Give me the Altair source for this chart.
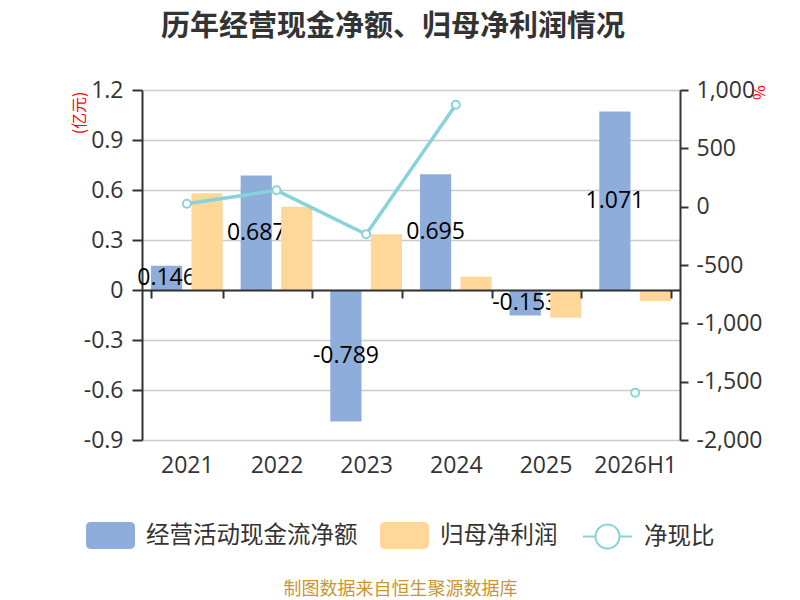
import altair as alt
import pandas as pd

# ---- data ----
years = ["2021", "2022", "2023", "2024", "2025", "2026H1"]
cash_flow = [0.146, 0.687, -0.789, 0.695, -0.153, 1.071]
net_profit = [0.58, 0.50, 0.334, 0.08, -0.166, -0.066]
cash_ratio = [25, 140, -237, 874, None, -1594]
cash_labels = ["0.146", "0.687", "-0.789", "0.695", "-0.153", "1.071"]

S1 = "经营活动现金流净额"
S2 = "归母净利润"
S3 = "净现比"
TITLE = "历年经营现金净额、归母净利润情况"
SOURCE = "制图数据来自恒生聚源数据库"

left_ticks = [-0.9, -0.6, -0.3, 0, 0.3, 0.6, 0.9, 1.2]
right_ticks = [-2000, -1500, -1000, -500, 0, 500, 1000]

BLUE = "#8EADDB"
ORANGE = "#FFD899"
TEAL = "#87D3D9"
DARK = "#333333"
FONT = "Open Sans, Noto Sans CJK SC"
CJK = "Noto Sans CJK SC"

cash_df = pd.DataFrame({"year": years, "value": cash_flow, "series": S1, "label": cash_labels})
profit_df = pd.DataFrame({"year": years, "value": net_profit, "series": S2})
ratio_df = pd.DataFrame({"year": years, "ratio": cash_ratio, "name": S3})

RECT_PATH = ("M-0.8,-0.55L0.8,-0.55Q1,-0.55,1,-0.35L1,0.35Q1,0.55,0.8,0.55"
             "L-0.8,0.55Q-1,0.55,-1,0.35L-1,-0.35Q-1,-0.55,-0.8,-0.55Z")
LINE_PATH = ("M-1,0L-0.49,0M0.49,0L1,0M0.49,0A0.49,0.49,0,1,1,-0.49,0"
             "A0.49,0.49,0,1,1,0.49,0")

x_axis = alt.Axis(
    title=SOURCE, titleColor="#C9962F", titleFontSize=18, titleFont=CJK,
    titleFontWeight="normal", titleX=258, titleY=299, titleAlign="center",
    titleBaseline="middle",
    offset=-150, domainColor=DARK, domainWidth=2, tickColor=DARK, tickWidth=2,
    tickSize=8, tickBand="extent", labelFontSize=23, labelFont=FONT,
    labelColor=DARK, labelPadding=156, labelAngle=0, grid=False, zindex=1,
)
x_enc = alt.X("year:N", sort=years, scale=alt.Scale(paddingInner=0.2, paddingOuter=0.1), axis=x_axis)
xoff_enc = alt.XOffset("series:N", scale=alt.Scale(domain=[S1, S2], paddingInner=0.23, paddingOuter=0))

left_axis = alt.Axis(
    values=left_ticks,
    labelExpr="datum.value == 0 ? '0' : (datum.value < 0 ? '-' : '') + format(abs(datum.value), '.1f')",
    title="(亿元)", titleColor="#FF0000", titleFontSize=16, titleFont=CJK,
    titleFontWeight="normal", titleX=-63, titleY=1, titleAngle=270,
    titleAlign="right", titleBaseline="middle",
    domainColor=DARK, domainWidth=2, tickColor=DARK, tickWidth=2, tickSize=10,
    labelPadding=9, labelFontSize=23, labelFont=FONT, labelColor=DARK,
    grid=True, gridColor="#CCCCCC", gridWidth=1.5,
)
left_scale = alt.Scale(domain=[-0.9, 1.2], nice=False)

right_axis = alt.Axis(
    orient="right", values=right_ticks,
    labelExpr="(datum.value < 0 ? '-' : '') + format(abs(datum.value), ',d')",
    title="%", titleColor="#FF0000", titleFontSize=16, titleFont=CJK,
    titleFontWeight="normal", titleX=77, titleY=2, titleAngle=90,
    titleAlign="center", titleBaseline="middle",
    domainColor=DARK, domainWidth=2, tickColor=DARK, tickWidth=2, tickSize=8,
    labelPadding=8, labelFontSize=23, labelFont=FONT, labelColor=DARK, grid=False,
)
right_scale = alt.Scale(domain=[-2000, 1000], nice=False)

leg_bars = alt.Legend(
    title=None, orient="none", legendX=-56, legendY=421, direction="horizontal",
    symbolType=RECT_PATH, symbolSize=2401, symbolStrokeWidth=0,
    labelFontSize=23.5, labelFont=CJK, labelColor=DARK, labelOffset=11,
    labelLimit=400, columnPadding=22, padding=0,
)
leg_line = alt.Legend(
    title=None, orient="none", legendX=440, legendY=421, direction="horizontal",
    symbolType=LINE_PATH, symbolSize=2401, symbolStrokeWidth=2,
    symbolFillColor="#FFFFFF", labelFontSize=23.5, labelFont=CJK,
    labelColor=DARK, labelOffset=11, labelLimit=400, padding=0,
)
color_enc = alt.Color("series:N", scale=alt.Scale(domain=[S1, S2], range=[BLUE, ORANGE]), legend=leg_bars)

cash_bars = alt.Chart(cash_df).mark_bar().encode(
    x=x_enc, xOffset=xoff_enc,
    y=alt.Y("value:Q", scale=left_scale, axis=left_axis),
    color=color_enc,
)
cash_text = alt.Chart(cash_df).transform_calculate(mid="datum.value / 2").mark_text(
    font=FONT, fontSize=23, color="#000000", align="center", baseline="middle"
).encode(
    x=x_enc, xOffset=xoff_enc,
    y=alt.Y("mid:Q", scale=left_scale, axis=left_axis),
    text="label:N",
)
profit_bars = alt.Chart(profit_df).mark_bar().encode(
    x=x_enc, xOffset=xoff_enc,
    y=alt.Y("value:Q", scale=left_scale, axis=left_axis),
    color=color_enc,
)
left = alt.layer(cash_bars, cash_text, profit_bars)

ratio_line = alt.Chart(ratio_df).mark_line(strokeWidth=3.5).encode(
    x=x_enc,
    y=alt.Y("ratio:Q", scale=right_scale, axis=right_axis),
    stroke=alt.Stroke("name:N", scale=alt.Scale(domain=[S3], range=[TEAL]), legend=leg_line),
)
ratio_pts = alt.Chart(ratio_df).mark_point(
    filled=True, fill="#FFFFFF", stroke=TEAL, strokeWidth=2, size=64, opacity=1
).encode(
    x=x_enc,
    y=alt.Y("ratio:Q", scale=right_scale, axis=right_axis),
)
right = alt.layer(ratio_line, ratio_pts)

chart = alt.layer(left, right).resolve_scale(y="independent").properties(
    width=538, height=350,
    autosize=alt.AutoSizeParams(type="none"),
    padding={"left": 134, "top": 82, "right": 112, "bottom": 160},
    title=alt.Title(TITLE, fontSize=29, fontWeight="bold", color=DARK, font=CJK,
                    anchor="middle", frame="group", dx=-18, offset=37),
).configure_view(stroke=None)

chart.save("out.html", embed_options={"renderer": "svg", "actions": False})
